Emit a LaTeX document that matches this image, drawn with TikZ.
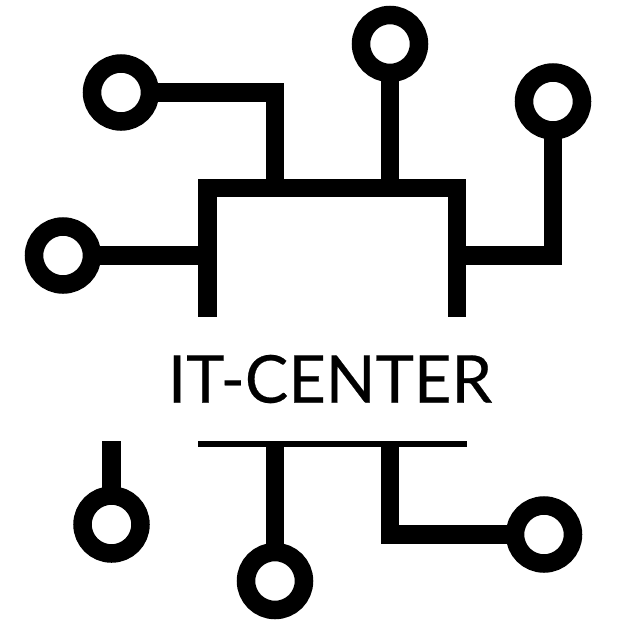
\documentclass[tikz,border=0pt]{standalone}
\usepackage{fontspec}
\setmainfont{Lato}
\newfontfamily\titlefont[FakeBold=0.35]{Lato}
\begin{document}
\begin{tikzpicture}[x=1pt,y=-1pt]
\tikzset{
  trace/.style={line width=18.5pt,draw=black,line join=miter},
  pin/.style={circle,draw=black,line width=18.5pt,fill=white,minimum size=58pt,inner sep=0pt,outer sep=0pt},
}
\useasboundingbox (0,0) rectangle (618,622);
% pads
\node[pin] (p1) at (121,92.5) {};
\node[pin] (p2) at (390,44) {};
\node[pin] (p3) at (553,101.5) {};
\node[pin] (p4) at (63,255.5) {};
\node[pin] (p5) at (111.5,524.5) {};
\node[pin] (p6) at (275,581) {};
\node[pin] (p7) at (544,534.5) {};
% free ends
\coordinate (bl) at (207.5,316.5);
\coordinate (br) at (457,316.5);
\coordinate (s5) at (111.5,441);
\coordinate (s6) at (275,444);
\coordinate (s7) at (390,444);
\coordinate (t1) at (275,188);
\coordinate (t2) at (390,188);
\coordinate (r3) at (457,255.5);
\coordinate (l4) at (207.5,255.5);
% connectors
\draw[trace] (bl) -- (207.5,188) -- (457,188) -- (br);
\draw[trace] (p1) -- (275,92.5) -- (t1);
\draw[trace] (p2) -- (t2);
\draw[trace] (p3) -- (553,255.5) -- (r3);
\draw[trace] (p4) -- (l4);
\draw[trace] (s5) -- (p5);
\draw[trace] (s6) -- (p6);
\draw[trace] (s7) -- (390,534.5) -- (p7);
\coordinate (rl) at (198,444);
\coordinate (rr) at (466.5,444);
\draw[line width=6pt] (rl) -- (rr);
\node[font=\titlefont\fontsize{66pt}{66pt}\selectfont,inner sep=0pt] (title) at (330,379) {\scalebox{0.985}[1]{IT-CENTER}};
\end{tikzpicture}
\end{document}
